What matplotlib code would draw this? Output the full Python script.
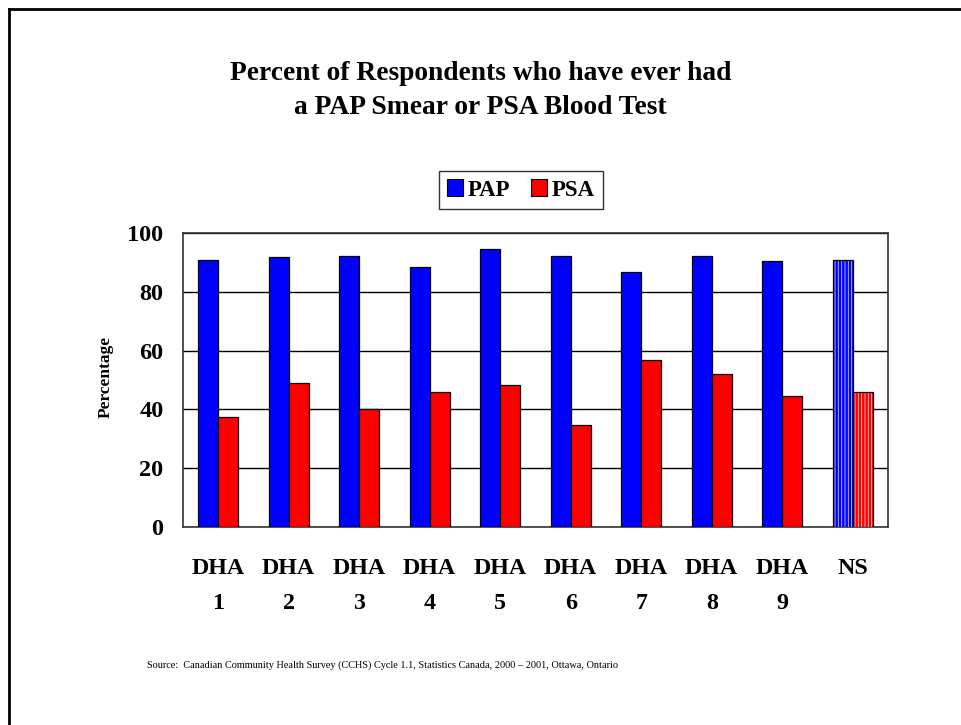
import numpy as np
import matplotlib.pyplot as plt
from matplotlib.patches import Rectangle

categories = ['DHA\n1', 'DHA\n2', 'DHA\n3', 'DHA\n4', 'DHA\n5',
              'DHA\n6', 'DHA\n7', 'DHA\n8', 'DHA\n9', 'NS']
pap = [90.8, 91.7, 92.2, 88.5, 94.6, 92.3, 86.6, 92.3, 90.5, 90.8]
psa = [37.5, 48.9, 40.0, 45.8, 48.3, 34.7, 56.7, 52.0, 44.7, 45.8]
yticks = [0, 20, 40, 60, 80, 100]

plt.rcParams['font.family'] = ['Liberation Serif', 'DejaVu Serif']
plt.rcParams['hatch.linewidth'] = 0.6

W, H = 961, 725
fig = plt.figure(figsize=(W / 100, H / 100), dpi=100)

# page border (left and top only visible)
fig.add_artist(plt.Line2D([9 / W, 9 / W], [0, 1 - 9 / H], color='black', lw=2, transform=fig.transFigure))
fig.add_artist(plt.Line2D([9 / W, 1], [1 - 9 / H, 1 - 9 / H], color='black', lw=2, transform=fig.transFigure))

ax = fig.add_axes([183 / W, (H - 527) / H, 705 / W, 294 / H])

x = np.arange(len(categories))
w = 0.287
n = len(categories)
solid = slice(0, n - 1)

ax.bar(x[solid] - w / 2, pap[:n - 1], w, color='#0000ff', edgecolor='black', linewidth=0.9, zorder=3)
ax.bar(x[solid] + w / 2, psa[:n - 1], w, color='#ff0000', edgecolor='black', linewidth=0.9, zorder=3)

# NS bars with light vertical stripes
ax.bar(x[-1] - w / 2, pap[-1], w, color='#0000ff', edgecolor='#ccccff', hatch='|||||', linewidth=0, zorder=3)
ax.bar(x[-1] + w / 2, psa[-1], w, color='#ff0000', edgecolor='#ffcccc', hatch='|||||', linewidth=0, zorder=3)
ax.bar(x[-1] - w / 2, pap[-1], w, fill=False, edgecolor='black', linewidth=0.9, zorder=4)
ax.bar(x[-1] + w / 2, psa[-1], w, fill=False, edgecolor='black', linewidth=0.9, zorder=4)

ax.set_xlim(-0.5, n - 0.5)
ax.set_ylim(0, 100)
ax.set_yticks(yticks)
ax.set_yticklabels([str(v) for v in yticks], fontsize=17.5, fontweight='bold')
ax.set_xticks(x)
ax.set_xticklabels(categories, fontsize=17.3, fontweight='bold', linespacing=1.9, va='top')
ax.tick_params(axis='both', length=0)
ax.tick_params(axis='y', pad=14)
ax.tick_params(axis='x', pad=22)
ax.yaxis.grid(True, color='black', linewidth=1, zorder=0)
ax.set_axisbelow(True)
for s in ax.spines.values():
    s.set_linewidth(1.2)
    s.set_color('#333333')

fig.text(106 / W, 1 - 377 / H, 'Percentage', rotation=90, ha='center', va='center',
         fontsize=12.5, fontweight='bold')

fig.text(0.5, 1 - 80 / H, 'Percent of Respondents who have ever had',
         ha='center', va='baseline', fontsize=19.8, fontweight='bold')
fig.text(0.5, 1 - 114 / H, 'a PAP Smear or PSA Blood Test',
         ha='center', va='baseline', fontsize=19.8, fontweight='bold')

handles = [Rectangle((0, 0), 1, 1, facecolor='#0000ff', edgecolor='black', linewidth=0.8),
           Rectangle((0, 0), 1, 1, facecolor='#ff0000', edgecolor='black', linewidth=0.8)]
leg = fig.legend(handles, ['PAP', 'PSA'], loc='center', bbox_to_anchor=(521 / W, 1 - 190 / H),
                 ncol=2, frameon=True, fancybox=False, edgecolor='black',
                 prop={'weight': 'bold', 'size': 16.5}, handlelength=0.7, handleheight=0.7,
                 handletextpad=0.22, columnspacing=0.9, borderpad=0.35, borderaxespad=0)
leg.get_frame().set_linewidth(1.0)

fig.text(147 / W, 1 - 665 / H,
         'Source:  Canadian Community Health Survey (CCHS) Cycle 1.1, Statistics Canada, 2000 \u2013 2001, Ottawa, Ontario',
         ha='left', va='center', fontsize=7.4)

fig.savefig('out.png', dpi=100)
